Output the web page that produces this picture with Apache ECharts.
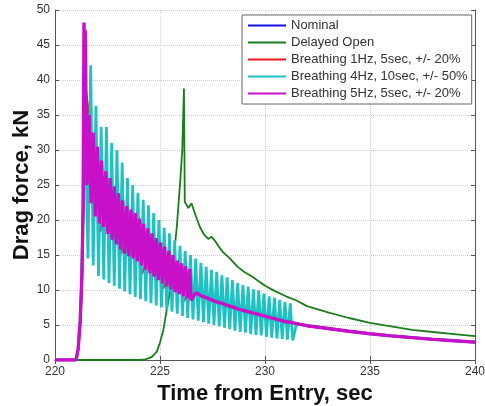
<!DOCTYPE html>
<html>
<head>
<meta charset="utf-8">
<script src="https://cdn.jsdelivr.net/npm/echarts@6/dist/echarts.min.js"></script>
<style>
  html, body { margin: 0; padding: 0; background: #fff; }
  #chart { width: 485px; height: 406px; }
</style>
</head>
<body>
<div id="chart"></div>
<script>
// x ticks / y ticks
const xTicks = [220, 225, 230, 235, 240];
const yTicks = [0, 5, 10, 15, 20, 25, 30, 35, 40, 45, 50];

// Nominal drag (time s, force kN)
const nomT = [220, 221.0, 221.1, 221.2, 221.28, 221.34, 221.4, 221.46, 221.55, 221.7, 221.95, 222.2, 222.45, 222.7, 222.95,
  223.2, 223.45, 223.7, 223.95, 224.2, 224.45, 224.7, 224.95, 225.2, 225.45, 225.7, 225.95, 226.2, 226.45, 226.7,
  226.95, 227.2, 227.45, 227.7, 227.95, 228.2, 228.45, 228.7, 228.95, 229.2, 229.45, 229.7, 229.95, 230.2, 230.45,
  230.7, 230.95, 231.2, 231.5, 232, 233, 234, 235, 236, 237, 238, 239, 240];
const nomV = [0, 0, 1.5, 5.5, 12, 22, 40, 39, 31, 28, 24.5, 22.5, 21.5, 20.7, 19.8,
  18.8, 17.6, 16.8, 16, 15.3, 14.7, 14, 13.3, 12.7, 12.1, 11.5, 10.9, 10.4, 10, 9.6,
  9.2, 8.9, 8.6, 8.3, 8.1, 7.8, 7.6, 7.3, 7.1, 6.9, 6.7, 6.5, 6.3, 6.1, 5.9,
  5.7, 5.5, 5.4, 5.2, 4.9, 4.5, 4.1, 3.75, 3.45, 3.2, 2.95, 2.75, 2.55];

// Delayed open
const greenT = [220, 224.0, 224.3, 224.6, 224.85, 225.0, 225.16, 225.3, 225.48, 225.63, 225.8, 225.95, 226.06, 226.14,
  226.18, 226.35, 226.5, 226.7, 226.9, 227.1, 227.3, 227.45, 227.6, 227.8, 228.0, 228.3, 228.7, 229.0, 229.4,
  230.0, 230.5, 231.0, 231.5, 232, 233, 234, 235, 236, 237, 238, 239, 240];
const greenV = [0, 0, 0.1, 0.4, 1.2, 2.5, 4.3, 6.8, 9.8, 14, 19, 25, 30, 38.8,
  22.6, 21.7, 22.4, 20.6, 19, 17.9, 17.3, 17.6, 17.1, 16.2, 15.4, 14.6, 13.3, 12.6, 11.9,
  10.6, 9.8, 9.1, 8.5, 7.7, 6.8, 6.0, 5.3, 4.8, 4.3, 4.0, 3.7, 3.4];

// Breathing 1Hz, 5sec, +/- 20%
const redT = [221.4, 221.65, 221.9, 222.15, 222.4, 222.65, 222.9, 223.15, 223.4, 223.65, 223.9, 224.15, 224.4,
  224.65, 224.9, 225.15, 225.4, 225.65, 225.9, 226.15, 226.4];
const redV = [40, 34.5, 25, 18.3, 21.6, 25, 19.9, 15.2, 17.8, 20.3, 16.1, 12.3, 14.8,
  17, 13.4, 10.2, 12.2, 13.9, 11, 8.4, 10.1];

// Breathing 4Hz, 10sec, +/- 50%  (peaks and troughs)
const cyanHighT = [221.70, 221.95, 222.20, 222.45, 222.70, 222.95, 223.20, 223.45, 223.70, 223.95, 224.20, 224.45,
  224.70, 224.95, 225.20, 225.45, 225.70, 225.95, 226.20, 226.45, 226.70, 226.95, 227.20, 227.45, 227.70,
  227.95, 228.20, 228.45, 228.70, 228.95, 229.20, 229.45, 229.70, 229.95, 230.20, 230.45, 230.70, 230.95, 231.20];
const cyanHighV = [42.1, 36.3, 33.3, 33.3, 31.0, 30.0, 28.2, 26.0, 25.0, 23.9, 22.9, 22.1,
  21.0, 20.0, 18.9, 18.1, 17.1, 16.3, 15.6, 15.0, 14.5, 13.9, 13.3, 12.9, 12.6,
  12.1, 11.8, 11.4, 11.0, 10.7, 10.5, 10.1, 9.9, 9.5, 9.1, 8.9, 8.6, 8.3, 8.1];
const cyanLowT = [221.57, 221.82, 222.07, 222.32, 222.57, 222.82, 223.07, 223.32, 223.57, 223.82, 224.07, 224.32,
  224.57, 224.82, 225.07, 225.32, 225.57, 225.82, 226.07, 226.32, 226.57, 226.82, 227.07, 227.32, 227.57,
  227.82, 228.07, 228.32, 228.57, 228.82, 229.07, 229.32, 229.57, 229.82, 230.07, 230.32, 230.57, 230.82,
  231.07, 231.32];
const cyanLowV = [14.5, 13.5, 12.0, 11.5, 11.0, 10.6, 10.2, 9.8, 9.4, 9.0, 8.7, 8.4,
  8.1, 7.8, 7.5, 7.2, 6.9, 6.6, 6.3, 6.0, 5.8, 5.6, 5.4, 5.2, 5.0,
  4.8, 4.6, 4.4, 4.2, 4.0, 3.9, 3.7, 3.6, 3.5, 3.3, 3.2, 3.1, 3.0,
  2.9, 2.8];

// Breathing 5Hz, 5sec, +/- 20%  (peaks and troughs)
const magHighT = [221.38, 221.44, 221.62, 221.82, 222.02, 222.22, 222.42, 222.62, 222.82, 223.02, 223.22, 223.42,
  223.62, 223.82, 224.02, 224.22, 224.42, 224.62, 224.82, 225.02, 225.22, 225.42, 225.62, 225.82, 226.02,
  226.22, 226.42];
const magHighV = [48.2, 47.1, 35, 32.5, 30.5, 28.5, 27, 26, 24.8, 23.8, 22.8, 22,
  21.5, 21, 20.2, 19.5, 18.8, 18.1, 17.4, 16.8, 16.2, 15.6, 15.0, 14.2, 13.8,
  13.4, 13.0];
const magLowT = [221.41, 221.52, 221.72, 221.92, 222.12, 222.32, 222.52, 222.72, 222.92, 223.12, 223.32, 223.52,
  223.72, 223.92, 224.12, 224.32, 224.52, 224.72, 224.92, 225.12, 225.32, 225.52, 225.72, 225.92, 226.12,
  226.32, 226.48];
const magLowV = [44, 25, 22.4, 20.5, 19.5, 19, 18, 17.2, 16.5, 15.8, 15.2, 14.8,
  14.5, 14.1, 13.5, 12.9, 12.4, 11.9, 11.4, 10.9, 10.5, 10.1, 9.7, 9.4, 9.1,
  8.8, 8.5];

const pairs = (t, v) => t.map((x, i) => [x, v[i]]);
const byTime = (a, b) => a[0] - b[0];
const nominal = pairs(nomT, nomV);
const before = (t) => nominal.filter((p) => p[0] <= t);
const after = (t) => nominal.filter((p) => p[0] >= t);

const redData = before(221.34).concat(pairs(redT, redV), after(226.45));
const cyanData = before(221.4).concat(
  pairs(cyanHighT, cyanHighV).concat(pairs(cyanLowT, cyanLowV)).sort(byTime),
  after(231.5)
);
const magData = before(221.34).concat(
  pairs(magHighT, magHighV).concat(pairs(magLowT, magLowV)).sort(byTime),
  after(226.7)
);

const font = "Liberation Sans, Arial, sans-serif";

const line = (name, data, color, width) => ({
  name: name,
  type: "line",
  data: data,
  showSymbol: false,
  symbol: "none",
  lineStyle: { color: color, width: width },
  itemStyle: { color: color },
});

const option = {
  animation: false,
  backgroundColor: "#fff",
  grid: { left: 55, right: 10, top: 10, bottom: 46, outerBoundsMode: "none" },
  legend: {
    orient: "vertical",
    left: 242,
    top: 15,
    icon: "rect",
    itemWidth: 38,
    itemHeight: 2,
    itemGap: 2,
    padding: [3, 4, 3, 6],
    backgroundColor: "#fff",
    borderColor: "#666",
    borderWidth: 1,
    borderRadius: 0,
    textStyle: { fontFamily: font, fontSize: 13, color: "#333", lineHeight: 15 },
    data: [
      "Nominal",
      "Delayed Open",
      "Breathing 1Hz, 5sec, +/- 20%",
      "Breathing 4Hz, 10sec, +/- 50%",
      "Breathing 5Hz, 5sec, +/- 20%",
    ],
  },
  xAxis: [
    {
      type: "value",
      min: xTicks[0],
      max: xTicks[xTicks.length - 1],
      interval: 5,
      name: "Time from Entry, sec",
      nameLocation: "middle",
      nameGap: 23,
      nameMoveOverlap: false,
      nameTextStyle: { fontFamily: font, fontSize: 22, fontWeight: "bold", color: "#111" },
      axisLine: { lineStyle: { color: "#555", width: 1 } },
      axisTick: { inside: true, length: 4, lineStyle: { color: "#555" } },
      axisLabel: { fontFamily: font, fontSize: 12, color: "#333", margin: 6 },
      splitLine: { show: true, lineStyle: { color: "#cfcfcf", type: "dotted" } },
    },
    {
      type: "value",
      position: "top",
      min: xTicks[0],
      max: xTicks[xTicks.length - 1],
      interval: 5,
      axisLine: { show: true, lineStyle: { color: "#555", width: 1 } },
      axisTick: { show: true, inside: true, length: 4, lineStyle: { color: "#555" } },
      axisLabel: { show: false },
      splitLine: { show: false },
    },
  ],
  yAxis: [
    {
      type: "value",
      min: yTicks[0],
      max: yTicks[yTicks.length - 1],
      interval: 5,
      name: "Drag force, kN",
      nameLocation: "middle",
      nameRotate: 90,
      nameGap: 22,
      nameMoveOverlap: false,
      nameTextStyle: { fontFamily: font, fontSize: 22, fontWeight: "bold", color: "#111" },
      axisLine: { show: true, lineStyle: { color: "#555", width: 1 } },
      axisTick: { show: true, inside: true, length: 4, lineStyle: { color: "#555" } },
      axisLabel: { fontFamily: font, fontSize: 12, color: "#333", margin: 5 },
      splitLine: { show: true, lineStyle: { color: "#cfcfcf", type: "dotted" } },
    },
    {
      type: "value",
      position: "right",
      min: yTicks[0],
      max: yTicks[yTicks.length - 1],
      interval: 5,
      axisLine: { show: true, lineStyle: { color: "#555", width: 1 } },
      axisTick: { show: true, inside: true, length: 4, lineStyle: { color: "#555" } },
      axisLabel: { show: false },
      splitLine: { show: false },
    },
  ],
  series: [
    line("Nominal", nominal, "#1010e0", 2.5),
    line("Delayed Open", pairs(greenT, greenV), "#1a7d1a", 1.8),
    line("Breathing 1Hz, 5sec, +/- 20%", redData, "#e8151b", 2),
    line("Breathing 4Hz, 10sec, +/- 50%", cyanData, "#1fc2c2", 2.8),
    line("Breathing 5Hz, 5sec, +/- 20%", magData, "#c810c8", 3.4),
  ],
};

const chart = echarts.init(document.getElementById("chart"));
chart.setOption(option);
</script>
</body>
</html>
